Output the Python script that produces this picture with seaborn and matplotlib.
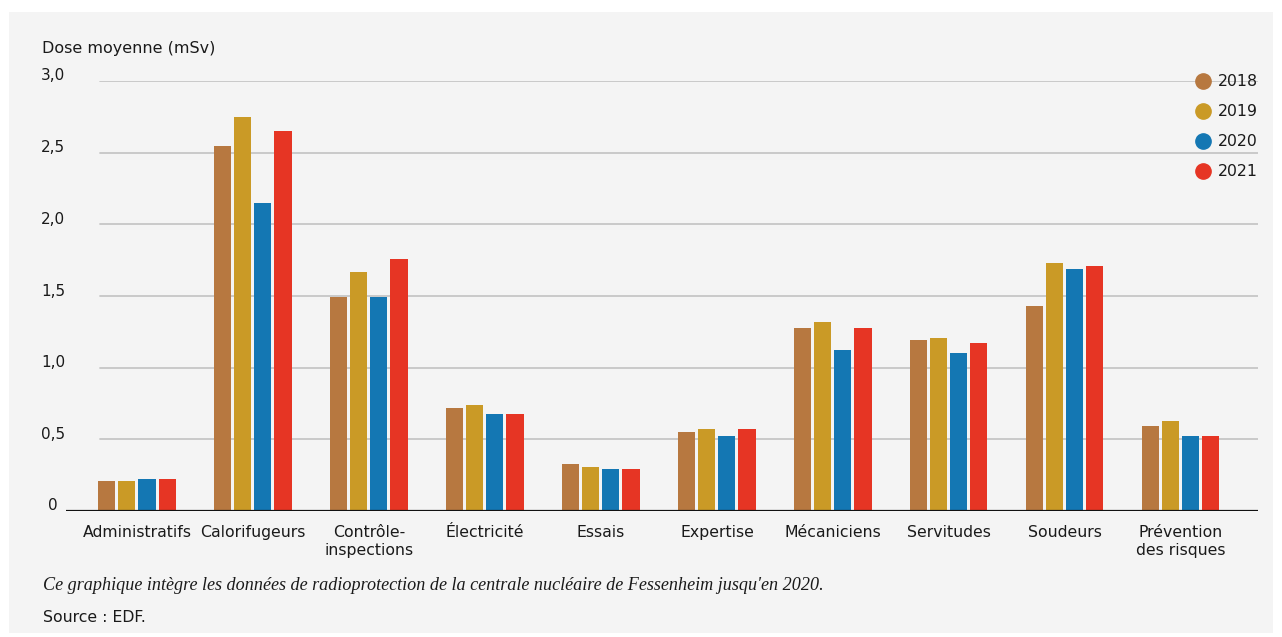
import matplotlib
matplotlib.use("Agg")
import matplotlib.pyplot as plt
from matplotlib.lines import Line2D
from matplotlib.patches import Rectangle
import seaborn as sns
import pandas as pd

categories = ["Administratifs", "Calorifugeurs", "Contrôle-\ninspections", "Électricité",
              "Essais", "Expertise", "Mécaniciens", "Servitudes", "Soudeurs",
              "Prévention\ndes risques"]
years = ["2018", "2019", "2020", "2021"]
v2018 = [0.21, 2.55, 1.49, 0.72, 0.33, 0.55, 1.28, 1.19, 1.43, 0.59]
v2019 = [0.21, 2.75, 1.67, 0.74, 0.31, 0.57, 1.32, 1.21, 1.73, 0.63]
v2020 = [0.22, 2.15, 1.49, 0.68, 0.29, 0.52, 1.12, 1.10, 1.69, 0.52]
v2021 = [0.22, 2.65, 1.76, 0.68, 0.29, 0.57, 1.28, 1.17, 1.71, 0.52]
yticks = [0, 0.5, 1.0, 1.5, 2.0, 2.5, 3.0]
ytick_labels = ["0", "0,5", "1,0", "1,5", "2,0", "2,5", "3,0"]
colors = ["#b77840", "#ca9a26", "#1477b3", "#e63524"]

rows = []
for y, vals in zip(years, [v2018, v2019, v2020, v2021]):
    for c, v in zip(categories, vals):
        rows.append({"cat": c, "year": y, "val": v})
df = pd.DataFrame(rows)

sns.set_style("white")
plt.rcParams["font.family"] = ["DejaVu Sans"]

W, H = 1282, 637
fig = plt.figure(figsize=(W / 100, H / 100), dpi=100)
fig.patch.set_facecolor("white")
bg = Rectangle((9 / W, (H - 633) / H), (1273 - 9) / W, (633 - 12) / H,
               transform=fig.transFigure, facecolor="#f4f4f4",
               edgecolor="none", zorder=-10)
fig.add_artist(bg)

ax_l, ax_r = 66, 1258
ax_b, ax_t = 511, 81
ax = fig.add_axes([ax_l / W, (H - ax_b) / H, (ax_r - ax_l) / W, (ax_b - ax_t) / H])
ax.set_facecolor("none")
ax.set_zorder(2)

sns.barplot(data=df, x="cat", y="val", hue="year", hue_order=years, order=categories,
            palette=colors, width=0.69, gap=0.15, saturation=1, ax=ax, legend=False,
            linewidth=0, zorder=3)

ax.set_xlim(-0.612, 9.664)
ax.set_ylim(0, 3.0)
gx = (100 - ax_l) / (ax_r - ax_l)
for t in yticks[1:]:
    ax.axhline(t, xmin=gx, xmax=1, color="#c6c6c6", lw=1.3, zorder=1)
ax.axhline(0, color="#111111", lw=1.6, zorder=4)

for s in ax.spines.values():
    s.set_visible(False)
ax.set_xlabel("")
ax.set_ylabel("")
ax.set_yticks([])
ax.tick_params(axis="x", length=0, pad=10, labelsize=11.3, colors="#1a1a1a")
for lbl in ax.get_xticklabels():
    lbl.set_verticalalignment("top")
    lbl.set_linespacing(1.3)

for t, lab in zip(yticks, ytick_labels):
    yp = ax_b - t / 3.0 * (ax_b - ax_t) - 5
    fig.text(53 / W, (H - yp) / H, lab, ha="center", va="center", fontsize=11,
             color="#1a1a1a")

fig.text(42 / W, (H - 49) / H, "Dose moyenne (mSv)", ha="left", va="center",
         fontsize=11.5, color="#1a1a1a")

handles = [Line2D([], [], marker="o", linestyle="", markersize=11,
                  markerfacecolor=c, markeredgecolor=c) for c in colors]
leg = fig.legend(handles, years, loc="upper left",
                 bbox_to_anchor=(1194 / W, (H - 74) / H), frameon=False,
                 fontsize=11.3, handletextpad=0.3, labelspacing=0.96,
                 handlelength=1.2, borderaxespad=0, borderpad=0)
for t in leg.get_texts():
    t.set_color("#1a1a1a")

fig.text(43 / W, (H - 586) / H,
         "Ce graphique intègre les données de radioprotection de la centrale nucléaire de Fessenheim jusqu'en 2020.",
         ha="left", va="center", fontsize=13.1, style="italic",
         family=["Liberation Serif", "DejaVu Serif"], color="#1a1a1a")
fig.text(43 / W, (H - 617) / H, "Source : EDF.", ha="left", va="center",
         fontsize=11.3, color="#1a1a1a")

fig.savefig("out.png", dpi=100, facecolor="white")
